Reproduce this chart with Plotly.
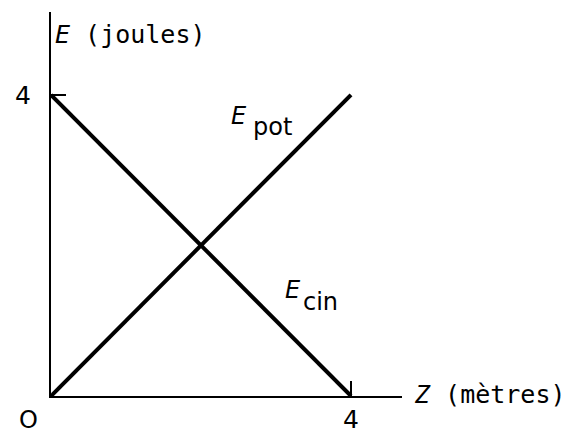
import plotly.graph_objects as go

# positions z (metres) and energies (joules)
z = [0, 4]
e_pot = [0, 4]
e_cin = [4, 0]

x_ticks = [4]
y_ticks = [4]

FONT = "DejaVu Sans"
MONO = "DejaVu Sans Mono"
BLACK = "#000000"

fig = go.Figure()
fig.add_trace(go.Scatter(x=z, y=e_pot, mode="lines", name="Epot",
                         line=dict(color=BLACK, width=4)))
fig.add_trace(go.Scatter(x=z, y=e_cin, mode="lines", name="Ecin",
                         line=dict(color=BLACK, width=4)))

fig.update_xaxes(range=[0, 4.68], showline=True, linecolor=BLACK, linewidth=2,
                 showgrid=False, zeroline=False, ticks="inside", ticklen=15,
                 tickwidth=2, tickcolor=BLACK, tickvals=x_ticks,
                 ticktext=[str(v) for v in x_ticks], ticklabelstandoff=0,
                 automargin=False,
                 tickfont=dict(family=FONT, size=25, color=BLACK))
fig.update_yaxes(range=[0, 5.1], showline=True, linecolor=BLACK, linewidth=2,
                 showgrid=False, zeroline=False, ticks="inside", ticklen=15,
                 tickwidth=2, tickcolor=BLACK, tickvals=y_ticks,
                 ticktext=[str(v) for v in y_ticks], ticklabelstandoff=13,
                 automargin=False,
                 tickfont=dict(family=FONT, size=25, color=BLACK))

sans = dict(family=FONT, size=24, color=BLACK)
ann = [
    dict(x=0, y=4.8, text="<i>E</i> (joules)", xanchor="left",
         font=dict(family=MONO, size=25, color=BLACK), xshift=2),
    dict(x=4.68, y=0, text="<i>Z</i> (mètres)", xanchor="left",
         font=dict(family=MONO, size=25, color=BLACK), xshift=10, yshift=2),
    dict(x=0, y=0, text="O", xanchor="center", font=sans,
         xshift=-23, yshift=-24),
    dict(x=2.507, y=3.72, text="<i>E</i>", xanchor="center", font=sans),
    dict(x=2.67, y=3.57, text="pot", xanchor="left", font=sans),
    dict(x=3.227, y=1.41, text="<i>E</i>", xanchor="center", font=sans),
    dict(x=3.33, y=1.25, text="cin", xanchor="left", font=sans),
]
for a in ann:
    a.update(xref="x", yref="y", yanchor="middle", showarrow=False)

# the page body adds an 8px offset, so the figure is 8px smaller
fig.update_layout(
    annotations=ann,
    width=567, height=427,
    margin=dict(l=43, r=173, t=4, b=39),
    plot_bgcolor="white", paper_bgcolor="white",
    showlegend=False,
)

fig.write_html("out.html")
